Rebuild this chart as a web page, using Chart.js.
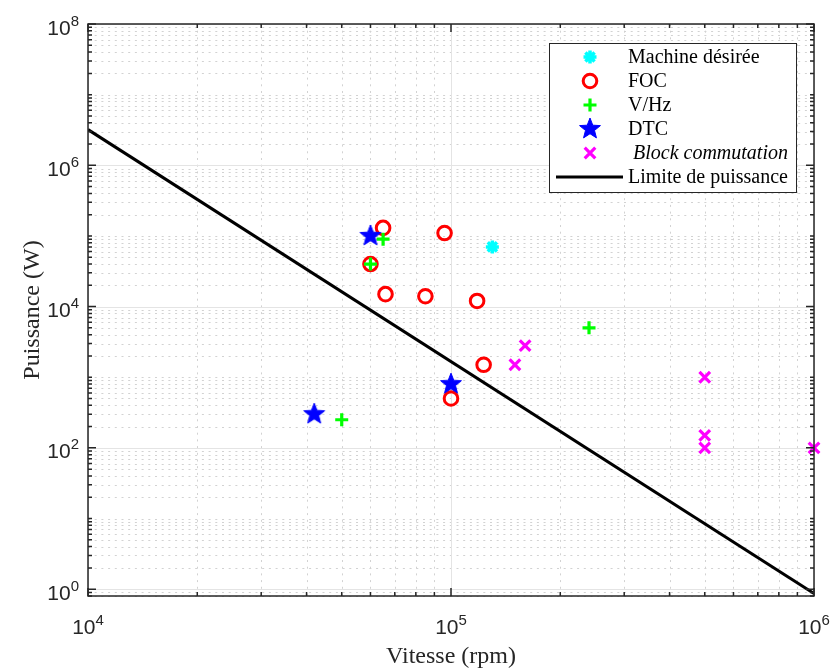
<!DOCTYPE html>
<html lang="fr">
<head>
<meta charset="UTF-8">
<title>Puissance en fonction de la vitesse</title>
<script src="https://cdn.jsdelivr.net/npm/chart.js@4.4.1/dist/chart.umd.min.js"></script>
<style>
    html, body { margin: 0; padding: 0; background: #fff; }
    canvas { display: block; }
</style>
</head>
<body>
<canvas id="graphe" width="832" height="671"></canvas>
<script>
// valeurs (vitesse en rpm, puissance en W)
const machineVitesse = [130000];
const machinePuissance = [70000];

const focVitesse = [65000, 96000, 60000, 66000, 85000, 118000, 123000, 100000];
const focPuissance = [130000, 110000, 40000, 15000, 14000, 12000, 1500, 500];

const vhzVitesse = [65000, 60000, 50000, 240000];
const vhzPuissance = [90000, 40000, 250, 5000];

const dtcVitesse = [60000, 100000, 42000];
const dtcPuissance = [100000, 800, 300];

const blockVitesse = [160000, 150000, 500000, 500000, 500000, 1000000];
const blockPuissance = [2800, 1500, 1000, 150, 100, 100];

const limiteVitesse = [10000, 1000000];
const limitePuissance = [3200000, 0.87];

// exposants affichés (10^n)
const xExposants = [4, 5, 6];
const yExposants = [0, 2, 4, 6, 8];

const legendeTextes = ['Machine désirée', 'FOC', 'V/Hz', 'DTC', 'Block commutation', 'Limite de puissance'];

function points(xs, ys) {
    return xs.map((x, i) => ({ x: x, y: ys[i] }));
}

// étoile à 5 branches (pentagramme plein)
function etoile(r, couleur) {
    const c = document.createElement('canvas');
    const s = Math.ceil(r * 2 + 4);
    c.width = s; c.height = s;
    const g = c.getContext('2d');
    g.translate(s / 2, s / 2);
    g.beginPath();
    for (let i = 0; i < 10; i++) {
        const rr = i % 2 === 0 ? r : r * 0.43;
        const a = -Math.PI / 2 + i * Math.PI / 5;
        g.lineTo(rr * Math.cos(a), rr * Math.sin(a));
    }
    g.closePath();
    g.fillStyle = couleur;
    g.fill();
    g.strokeStyle = couleur;
    g.lineWidth = 1;
    g.stroke();
    return c;
}

const SANS = '"Liberation Sans", Arial, sans-serif';
const SERIF = '"Liberation Serif", "Times New Roman", serif';
const AXE = '#262626';

// valeurs des graduations (1..9 x 10^n)
function graduations(min, max) {
    const res = [];
    for (let e = Math.floor(Math.log10(min)); e <= Math.ceil(Math.log10(max)); e++) {
        for (let m = 1; m <= 9; m++) {
            const v = m * Math.pow(10, e);
            if (v >= min * 0.9999 && v <= max * 1.0001) res.push({ v: v, major: m === 1 });
        }
    }
    return res;
}

function labelPuissance(ctx, exp, x, y, align) {
    ctx.font = '21px ' + SANS;
    const w10 = ctx.measureText('10').width;
    ctx.font = '15px ' + SANS;
    const wExp = ctx.measureText(String(exp)).width;
    let gauche = align === 'right' ? x - w10 - wExp : x - (w10 + wExp) / 2;
    ctx.textAlign = 'left';
    ctx.textBaseline = 'alphabetic';
    ctx.font = '21px ' + SANS;
    ctx.fillText('10', gauche, y);
    ctx.font = '15px ' + SANS;
    ctx.fillText(String(exp), gauche + w10, y - 9);
}

const cadre = {
    id: 'cadre',
    beforeDatasetsDraw(chart) {
        const ctx = chart.ctx;
        const a = chart.chartArea;
        const sx = chart.scales.x, sy = chart.scales.y;
        ctx.save();
        // grille secondaire pointillée
        ctx.strokeStyle = '#d2d2d2';
        ctx.lineWidth = 1;
        ctx.setLineDash([2, 4.7]);
        graduations(sx.min, sx.max).forEach(t => {
            if (t.major) return;
            const px = Math.round(sx.getPixelForValue(t.v)) + 0.5;
            ctx.beginPath(); ctx.moveTo(px, a.top); ctx.lineTo(px, a.bottom); ctx.stroke();
        });
        graduations(sy.min, sy.max).forEach(t => {
            const e = Math.round(Math.log10(t.v));
            if (t.major && yExposants.includes(e)) return;
            const py = Math.round(sy.getPixelForValue(t.v)) + 0.5;
            ctx.beginPath(); ctx.moveTo(a.left, py); ctx.lineTo(a.right, py); ctx.stroke();
        });
        // grille principale
        ctx.setLineDash([]);
        ctx.strokeStyle = '#e4e4e4';
        xExposants.forEach(e => {
            const px = Math.round(sx.getPixelForValue(Math.pow(10, e))) + 0.5;
            ctx.beginPath(); ctx.moveTo(px, a.top); ctx.lineTo(px, a.bottom); ctx.stroke();
        });
        yExposants.forEach(e => {
            const py = Math.round(sy.getPixelForValue(Math.pow(10, e))) + 0.5;
            ctx.beginPath(); ctx.moveTo(a.left, py); ctx.lineTo(a.right, py); ctx.stroke();
        });
        ctx.restore();
    },
    afterDatasetsDraw(chart) {
        const ctx = chart.ctx;
        const a = chart.chartArea;
        const sx = chart.scales.x, sy = chart.scales.y;
        ctx.save();
        ctx.strokeStyle = AXE;
        ctx.lineWidth = 1.5;
        // cadre
        ctx.strokeRect(a.left, a.top, a.right - a.left, a.bottom - a.top);
        // graduations vers l'intérieur
        graduations(sx.min, sx.max).forEach(t => {
            const px = sx.getPixelForValue(t.v);
            const l = t.major ? 8 : 4;
            ctx.beginPath();
            ctx.moveTo(px, a.bottom); ctx.lineTo(px, a.bottom - l);
            ctx.moveTo(px, a.top); ctx.lineTo(px, a.top + l);
            ctx.stroke();
        });
        graduations(sy.min, sy.max).forEach(t => {
            const py = sy.getPixelForValue(t.v);
            const e = Math.round(Math.log10(t.v));
            const l = (t.major && yExposants.includes(e)) ? 8 : 4;
            ctx.beginPath();
            ctx.moveTo(a.left, py); ctx.lineTo(a.left + l, py);
            ctx.moveTo(a.right, py); ctx.lineTo(a.right - l, py);
            ctx.stroke();
        });
        // étiquettes
        ctx.fillStyle = AXE;
        xExposants.forEach(e => {
            labelPuissance(ctx, e, sx.getPixelForValue(Math.pow(10, e)), a.bottom + 38, 'center');
        });
        yExposants.forEach(e => {
            labelPuissance(ctx, e, a.left - 9, sy.getPixelForValue(Math.pow(10, e)) + 10.5, 'right');
        });
        // titres des axes
        ctx.fillStyle = AXE;
        ctx.font = '24px ' + SERIF;
        ctx.textAlign = 'center';
        ctx.textBaseline = 'alphabetic';
        ctx.fillText('Vitesse (rpm)', (a.left + a.right) / 2, 663);
        ctx.save();
        ctx.translate(39, (a.top + a.bottom) / 2);
        ctx.rotate(-Math.PI / 2);
        ctx.fillText('Puissance (W)', 0, 0);
        ctx.restore();

        // légende
        const lx = 549, ly = 43, lw = 247, lh = 149;
        ctx.fillStyle = '#fff';
        ctx.fillRect(lx, ly, lw, lh);
        ctx.lineWidth = 1;
        ctx.strokeStyle = AXE;
        ctx.strokeRect(lx + 0.5, ly + 0.5, lw, lh);
        chart.data.datasets.forEach((ds, i) => {
            const y = ly + 14 + i * 24;
            const mx = 590;
            if (ds.showLine) {
                ctx.strokeStyle = ds.borderColor;
                ctx.lineWidth = ds.borderWidth;
                ctx.beginPath(); ctx.moveTo(556, y); ctx.lineTo(623, y); ctx.stroke();
            } else {
                ctx.fillStyle = ds.backgroundColor;
                ctx.strokeStyle = ds.borderColor;
                ctx.lineWidth = ds.pointBorderWidth;
                Chart.helpers.drawPoint(ctx, {
                    pointStyle: ds.pointStyle, radius: ds.pointRadius,
                    borderWidth: ds.pointBorderWidth, rotation: 0
                }, mx, y);
            }
            ctx.fillStyle = '#000';
            ctx.textAlign = 'left';
            ctx.textBaseline = 'middle';
            ctx.font = (ds.italique ? 'italic ' : '') + '20px ' + SERIF;
            ctx.fillText(ds.label, ds.italique ? 633 : 628, y + 1);
        });
        ctx.restore();
    }
};

const ctx = document.getElementById('graphe').getContext('2d');
const chart = new Chart(ctx, {
    type: 'scatter',
    data: {
        datasets: [
            {
                label: legendeTextes[0],
                data: points(machineVitesse, machinePuissance),
                pointStyle: 'star', pointRadius: 6.5, pointBorderWidth: 3.5,
                borderColor: '#00ffff', backgroundColor: '#00ffff', order: 6
            },
            {
                label: legendeTextes[1],
                data: points(focVitesse, focPuissance),
                pointStyle: 'circle', pointRadius: 6.8, pointBorderWidth: 3,
                borderColor: '#ff0000', backgroundColor: 'rgba(0,0,0,0)', order: 5
            },
            {
                label: legendeTextes[2],
                data: points(vhzVitesse, vhzPuissance),
                pointStyle: 'cross', pointRadius: 6.5, pointBorderWidth: 3.2,
                borderColor: '#00ff00', backgroundColor: '#00ff00', order: 4
            },
            {
                label: legendeTextes[3],
                data: points(dtcVitesse, dtcPuissance),
                pointStyle: etoile(11, '#0000ff'), pointRadius: 11, pointBorderWidth: 1,
                borderColor: '#0000ff', backgroundColor: '#0000ff', order: 3
            },
            {
                label: legendeTextes[4], italique: true,
                data: points(blockVitesse, blockPuissance),
                pointStyle: 'crossRot', pointRadius: 7.5, pointBorderWidth: 3.2,
                borderColor: '#ff00ff', backgroundColor: '#ff00ff', order: 2, clip: false
            },
            {
                label: legendeTextes[5],
                data: points(limiteVitesse, limitePuissance),
                showLine: true, pointRadius: 0, borderWidth: 3,
                borderColor: '#000000', backgroundColor: '#000000', order: 1
            }
        ]
    },
    options: {
        responsive: false,
        animation: false,
        layout: { padding: { left: 88, right: 18, top: 24, bottom: 75 } },
        scales: {
            x: { type: 'logarithmic', min: 1e4, max: 1e6, display: false },
            y: { type: 'logarithmic', min: 0.8, max: 1e8, display: false }
        },
        plugins: {
            legend: { display: false },
            tooltip: { enabled: false }
        }
    },
    plugins: [cadre]
});
</script>
</body>
</html>
